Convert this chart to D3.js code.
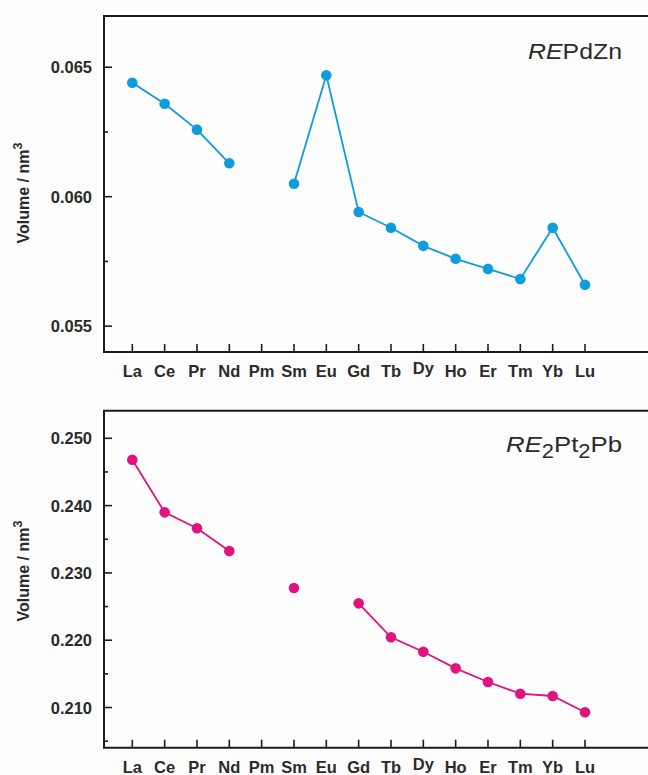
<!DOCTYPE html>
<html><head><meta charset="utf-8">
<script src="https://cdn.jsdelivr.net/npm/d3@7"></script>
<style>
html,body{margin:0;padding:0;background:#fdfdfd;}
svg{display:block;font-family:"Liberation Sans",Arial,sans-serif;}
</style></head>
<body><svg id="c" width="648" height="775"></svg>
<script>
const elements = ["La","Ce","Pr","Nd","Pm","Sm","Eu","Gd","Tb","Dy","Ho","Er","Tm","Yb","Lu"];
const volREPdZn = [0.06440,0.06359,0.06259,0.06129,null,0.06050,0.06469,0.05941,0.05880,0.05810,0.05760,0.05721,0.05682,0.05880,0.05660];
const volRE2Pt2Pb = [0.24682,0.23900,0.23663,0.23325,null,0.22776,null,0.22548,0.22043,0.21829,0.21582,0.21379,0.21205,0.21171,0.20929];
const majorTicksTop = [0.055,0.060,0.065];
const minorTicksTop = [0.0575,0.0625];
const majorTicksBot = [0.210,0.220,0.230,0.240,0.250];
const minorTicksBot = [0.205,0.215,0.225,0.235,0.245];

const svg = d3.select("#c");
const textCol = "#2b2b2b", axisCol = "#1c1c1c";
const x = d3.scalePoint().domain(elements).range([132.3,585]);

function panel(cfg){
  const g = svg.append("g");
  const y = d3.scaleLinear().domain(cfg.domain).range([cfg.bottom,cfg.top]);
  const left = 104, right = 648;
  g.append("path").attr("d",`M${right},${cfg.top}H${left}V${cfg.bottom}H${right}`)
    .attr("fill","none").attr("stroke",axisCol).attr("stroke-width",2);
  g.selectAll(".maj").data(cfg.major).join("line")
    .attr("x1",left).attr("x2",left+8).attr("y1",d=>y(d)).attr("y2",d=>y(d))
    .attr("stroke",axisCol).attr("stroke-width",1.6);
  g.selectAll(".min").data(cfg.minor).join("line")
    .attr("x1",left).attr("x2",left+4).attr("y1",d=>y(d)).attr("y2",d=>y(d))
    .attr("stroke",axisCol).attr("stroke-width",1.6);
  g.selectAll(".yl").data(cfg.major).join("text")
    .attr("x",92).attr("y",d=>y(d)+6).attr("text-anchor","end")
    .attr("font-size",16.5).attr("font-weight","bold").attr("fill",textCol)
    .text(d=>d3.format(".3f")(d));
  g.selectAll(".xt").data(elements).join("line")
    .attr("x1",d=>x(d)).attr("x2",d=>x(d)).attr("y1",cfg.bottom).attr("y2",cfg.bottom-8)
    .attr("stroke",axisCol).attr("stroke-width",1.6);
  g.selectAll(".xl").data(elements).join("text")
    .attr("x",d=>x(d)).attr("y",d=>cfg.bottom+25-(d==="Dy"?3:0)).attr("text-anchor","middle")
    .attr("font-size",16.5).attr("font-weight","bold").attr("fill",textCol)
    .text(d=>d);
  const yl = g.append("text").attr("transform",`translate(29,${cfg.labelY}) rotate(-90)`)
    .attr("text-anchor","middle").attr("font-size",16).attr("font-weight","bold").attr("fill",textCol);
  yl.append("tspan").text("Volume / nm");
  yl.append("tspan").attr("dy",-7).attr("font-size",12.5).text("3");
  const pts = elements.map((e,i)=>({e,v:cfg.values[i]}));
  const line = d3.line().defined(d=>d.v!=null).x(d=>x(d.e)).y(d=>y(d.v));
  g.append("path").attr("d",line(pts)).attr("fill","none").attr("stroke",cfg.color).attr("stroke-width",1.8);
  g.selectAll(".pt").data(pts.filter(d=>d.v!=null)).join("circle")
    .attr("cx",d=>x(d.e)).attr("cy",d=>y(d.v)).attr("r",5.3).attr("fill",cfg.color);
  const t = g.append("text").attr("transform",`translate(622,${cfg.titleY}) scale(${cfg.titleScale},1)`)
    .attr("text-anchor","end").attr("font-size",cfg.titleSize).attr("fill",textCol);
  cfg.title.forEach(p=>{
    const ts = t.append("tspan").text(p.t);
    if(p.italic) ts.attr("font-style","italic");
    if(p.sub) ts.attr("font-size",cfg.titleSize*0.85).attr("dy",6);
    if(p.up) ts.attr("dy",-6);
  });
}

panel({domain:[0.05400,0.06698],top:16,bottom:352,major:majorTicksTop,minor:minorTicksTop,
  values:volREPdZn,color:"#0f9cdb",labelY:193,titleY:59,titleSize:22,titleScale:1.13,
  title:[{t:"RE",italic:true},{t:"PdZn"}]});
panel({domain:[0.20403,0.2541],top:410.7,bottom:747.7,major:majorTicksBot,minor:minorTicksBot,
  values:volRE2Pt2Pb,color:"#e0137f",labelY:571,titleY:452,titleSize:23,titleScale:1.12,
  title:[{t:"RE",italic:true},{t:"2",sub:true},{t:"Pt",up:true},{t:"2",sub:true},{t:"Pb",up:true}]});
</script></body></html>
